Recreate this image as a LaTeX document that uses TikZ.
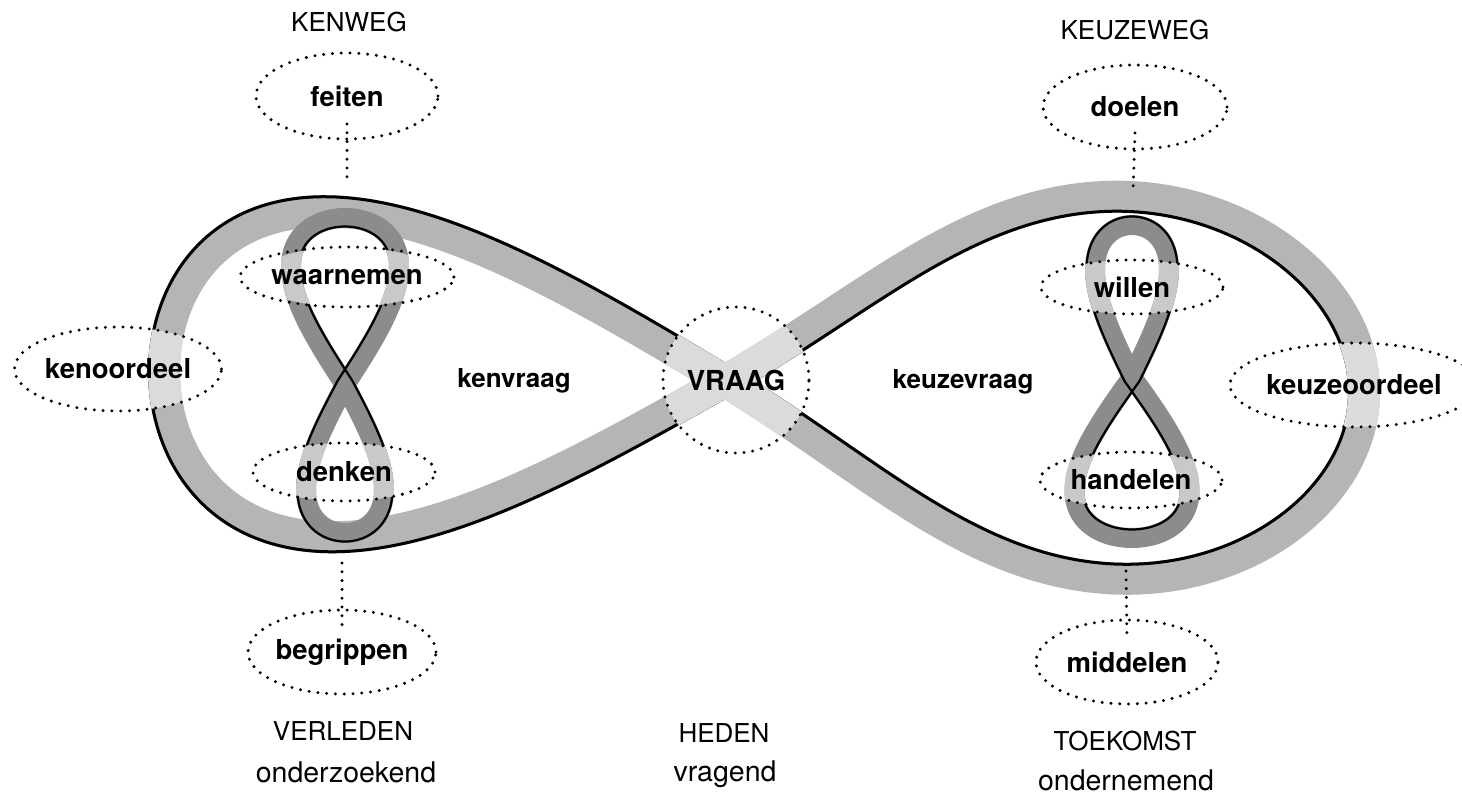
\documentclass[tikz,border=0pt]{standalone}
\usepackage{fontspec}
\setmainfont{TeX Gyre Heros}
\usetikzlibrary{shapes.geometric}
\definecolor{bandbig}{gray}{0.71}
\definecolor{bandbiglight}{gray}{0.86}
\definecolor{bandsmall}{gray}{0.55}
\definecolor{bandsmalllight}{gray}{0.79}
\newcommand\lblfont{\fontsize{27.5}{30}\selectfont\bfseries}
\newcommand\midfont{\fontsize{26}{29}\selectfont\bfseries}
\newcommand\capfont{\fontsize{26}{29}\selectfont}
\newcommand\lowfont{\fontsize{28.5}{31}\selectfont}
\tikzset{declare function={
  wr(\t)=cos(\t)-0.59*cos(\t)*cos(\t)*(1-cos(\t));
  wpr(\t)=1-0.59*(2*cos(\t)-3*cos(\t)*cos(\t));
  bxr(\t)=725+639*wr(\t);
  byr(\t)=381-382*sin(\t)*cos(\t)+0.017*639*wr(\t);
  dxr(\t)=-6.39*wpr(\t)*sin(\t);
  dyr(\t)=-3.82*cos(2*\t)+0.017*dxr(\t);
  bxl(\t)=725+561*cos(\t);
  byl(\t)=381-326*sin(\t)*cos(\t)+0.017*561*cos(\t);
  dxl(\t)=-5.61*sin(\t);
  dyl(\t)=-3.26*cos(2*\t)+0.017*dxl(\t);
},
dotell/.style={ellipse, draw, line width=3.3pt, dash pattern=on 0pt off 8.8pt, line cap=round, inner sep=0pt, font=\lblfont},
dotline/.style={line width=3.3pt, dash pattern=on 0pt off 8.8pt, line cap=round},
caplabel/.style={font=\capfont, anchor=base, inner sep=0pt},
lowlabel/.style={font=\lowfont, anchor=base, inner sep=0pt},
boldlabel/.style={font=\midfont, anchor=base, inner sep=0pt},
bigband/.style={draw=bandbig, line width=32pt, line join=round},
bigbandlight/.style={draw=bandbiglight, line width=32pt, line join=round},
bigedge/.style={draw=black, line width=3pt, line join=round},
smallband/.style={draw=bandsmall, line width=20pt, line join=round},
smallbandlight/.style={draw=bandsmalllight, line width=20pt, line join=round},
smalledge/.style={draw=black, line width=2.2pt, line join=round}
}
% #1 style, #2 offset
\newcommand\bigeight[2]{%
 \draw[#1] plot[variable=\t,domain=-90:90,samples=181]
   ({bxr(\t)+(#2)*dyr(\t)/veclen(dxr(\t),dyr(\t))},{byr(\t)-(#2)*dxr(\t)/veclen(dxr(\t),dyr(\t))})
  -- plot[variable=\t,domain=90:270,samples=181]
   ({bxl(\t)+(#2)*dyl(\t)/veclen(dxl(\t),dyl(\t))},{byl(\t)-(#2)*dxl(\t)/veclen(dxl(\t),dyl(\t))})
  -- cycle;}
% #1 style #2 cx #3 cy #4 aT #5 bT #6 aB #7 bB #8 offset
\newcommand\smalleight[8]{%
 \draw[#1] plot[variable=\t,domain=-90:90,samples=121]
   ({#2+#5*sin(\t)*cos(\t)+(#8)*(#4*sin(\t)/100)/veclen(#5*cos(2*\t)/100,#4*sin(\t)/100)},
    {#3-#4*cos(\t)-(#8)*(#5*cos(2*\t)/100)/veclen(#5*cos(2*\t)/100,#4*sin(\t)/100)})
  -- plot[variable=\t,domain=90:270,samples=121]
   ({#2+#7*sin(\t)*cos(\t)+(#8)*(#6*sin(\t)/100)/veclen(#7*cos(2*\t)/100,#6*sin(\t)/100)},
    {#3-#6*cos(\t)-(#8)*(#7*cos(2*\t)/100)/veclen(#7*cos(2*\t)/100,#6*sin(\t)/100)})
  -- cycle;}
\begin{document}
\begin{tikzpicture}[x=1pt,y=-1pt]
\fill[white] (0,0) rectangle (1462,794);
\useasboundingbox (0,0) rectangle (1462,794);
% ellipse centres
\coordinate (cFeiten) at (347,96);
\coordinate (cWaar) at (347,277);
\coordinate (cDenken) at (344,472);
\coordinate (cKenoor) at (118,369);
\coordinate (cVraag) at (736,380);
\coordinate (cWillen) at (1132,287);
\coordinate (cHandelen) at (1131,480);
\coordinate (cKeuzeoor) at (1354,385);
\coordinate (cDoelen) at (1135,107);
\coordinate (cMiddelen) at (1127,662);
\coordinate (cBegrip) at (342,652);
% bands
\bigeight{bigband}{0}
\bigeight{bigedge}{14.5}
\smalleight{smallband}{345}{385}{167}{108}{148}{78}{0}
\smalleight{smalledge}{345}{385}{167}{108}{148}{78}{-8.5}
\smalleight{smallband}{1132}{377}{152}{74}{161}{115}{0}
\smalleight{smalledge}{1132}{377}{152}{74}{161}{115}{8.5}
% lighter parts inside the ellipses
\begin{scope}\clip (cKenoor) ellipse [x radius=103pt, y radius=42pt]; \bigeight{bigbandlight}{0}\end{scope}
\begin{scope}\clip (cKeuzeoor) ellipse [x radius=101pt, y radius=42pt]; \bigeight{bigbandlight}{0}\end{scope}
\begin{scope}\clip (cVraag) circle [radius=73pt]; \bigeight{bigbandlight}{0}\end{scope}
\begin{scope}\clip (cWaar) ellipse [x radius=90pt, y radius=30pt]; \smalleight{smallbandlight}{345}{385}{167}{108}{148}{78}{0}\end{scope}
\begin{scope}\clip (cDenken) ellipse [x radius=91pt, y radius=29pt]; \smalleight{smallbandlight}{345}{385}{167}{108}{148}{78}{0}\end{scope}
\begin{scope}\clip (cWillen) ellipse [x radius=91pt, y radius=27pt]; \smalleight{smallbandlight}{1132}{377}{152}{74}{161}{115}{0}\end{scope}
\begin{scope}\clip (cHandelen) ellipse [x radius=91pt, y radius=28pt]; \smalleight{smallbandlight}{1132}{377}{152}{74}{161}{115}{0}\end{scope}
% dotted ellipses with labels
\node[dotell, minimum width=182pt, minimum height=86pt] (feiten) at (cFeiten) {feiten};
\node[dotell, minimum width=180pt, minimum height=60pt] (waarnemen) at (cWaar) {waarnemen};
\node[dotell, minimum width=182pt, minimum height=58pt] (denken) at (cDenken) {denken};
\node[dotell, minimum width=206pt, minimum height=84pt] (kenoordeel) at (cKenoor) {kenoordeel};
\node[dotell, minimum width=146pt, minimum height=146pt] (vraag) at (cVraag) {VRAAG};
\node[dotell, minimum width=182pt, minimum height=54pt] (willen) at (cWillen) {willen};
\node[dotell, minimum width=182pt, minimum height=56pt] (handelen) at (cHandelen) {handelen};
\node[dotell, minimum width=202pt, minimum height=84pt] (keuzeoordeel) at (cKeuzeoor) {keuzeoordeel};
\node[dotell, minimum width=184pt, minimum height=84pt] (doelen) at (cDoelen) {doelen};
\node[dotell, minimum width=182pt, minimum height=84pt] (middelen) at (cMiddelen) {middelen};
\node[dotell, minimum width=182pt, minimum height=84pt] (begrippen) at (cBegrip) {begrippen};
% free labels
\node[boldlabel] (kenvraag) at (514,387) {kenvraag};
\node[boldlabel] (keuzevraag) at (963,388) {keuzevraag};
\node[caplabel] (kenweg) at (349,32) {KENWEG};
\node[caplabel] (keuzeweg) at (1135,40) {KEUZEWEG};
\node[caplabel] (verleden) at (343,740) {VERLEDEN};
\node[lowlabel] (onderzoekend) at (346,782) {onderzoekend};
\node[caplabel] (heden) at (724,742) {HEDEN};
\node[lowlabel] (vragend) at (725,781) {vragend};
\node[caplabel] (toekomst) at (1125,750) {TOEKOMST};
\node[lowlabel] (ondernemend) at (1126,790) {ondernemend};
% dotted connectors
\coordinate (kwTop) at (347,183);
\coordinate (kzTop) at (1133,193);
\coordinate (kwBot) at (342,563);
\coordinate (kzBot) at (1126,571);
\draw[dotline] (feiten.center) ++(0,28) -- (kwTop);
\draw[dotline] (doelen.center) ++(0,26) -- (kzTop);
\draw[dotline] (kwBot) -- ([yshift=-22pt]begrippen.north);
\draw[dotline] (kzBot) -- ([yshift=-20pt]middelen.north);
\end{tikzpicture}
\end{document}
